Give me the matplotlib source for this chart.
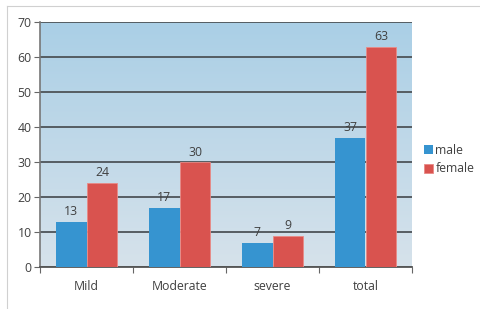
import numpy as np
import matplotlib.pyplot as plt
from matplotlib.lines import Line2D
from matplotlib.colors import LinearSegmentedColormap

categories = ["Mild", "Moderate", "severe", "total"]
male = [13, 17, 7, 37]
female = [24, 30, 9, 63]
series_names = ["male", "female"]
yticks = [0, 10, 20, 30, 40, 50, 60, 70]

plt.rcParams['font.family'] = ['Open Sans', 'DejaVu Sans']
text_color = "#404040"
blue = "#3694d0"
red = "#d9534f"
fs = 8.8

fig = plt.figure(figsize=(4.81, 3.09), dpi=100)
ax = fig.add_axes([40 / 481, 1 - 267 / 309, 372 / 481, 245 / 309])

# gradient background of the plot area
grad = np.linspace(0, 1, 256).reshape(-1, 1)
cmap = LinearSegmentedColormap.from_list("bg", ["#aacfe6", "#d6e2eb"])
ax.imshow(grad, aspect="auto", cmap=cmap, extent=[-0.5, 3.5, 0, 70],
          origin="upper", zorder=0)

x = np.arange(len(categories))
w = 0.333
b1 = ax.bar(x - w / 2, male, w, color=blue, label=series_names[0], zorder=3)
b2 = ax.bar(x + w / 2, female, w, color=red, edgecolor="#e98a86", linewidth=0.6,
            label=series_names[1], zorder=3)

for bars, vals in [(b1, male), (b2, female)]:
    for rect, v in zip(bars, vals):
        ax.text(rect.get_x() + rect.get_width() / 2, v + 1.0, str(v),
                ha="center", va="bottom", fontsize=fs, color=text_color, zorder=4)

ax.set_xlim(-0.5, 3.5)
ax.set_ylim(0, 70)
ax.set_yticks(yticks)
ax.yaxis.grid(True, color="#4d5358", linewidth=1.3, zorder=1)
ax.set_axisbelow(True)

# category ticks between groups, labels at centres
ax.set_xticks(np.arange(-0.5, 4, 1))
ax.set_xticklabels([])
ax.set_xticks(x, minor=True)
ax.set_xticklabels(categories, minor=True)
ax.tick_params(axis="x", which="major", length=4, direction="out", color="#666666")
ax.tick_params(axis="x", which="minor", length=0, pad=9, labelsize=fs, labelcolor=text_color)
ax.tick_params(axis="y", length=4, direction="out", color="#666666", labelsize=fs,
               labelcolor=text_color, pad=2)

for s in ["top", "right"]:
    ax.spines[s].set_visible(False)
ax.spines["left"].set_color("#777777")
ax.spines["bottom"].set_color("#555555")
ax.spines["left"].set_linewidth(1.2)
ax.spines["bottom"].set_linewidth(1.3)

leg = fig.legend(handles=[b1, b2], labels=series_names, loc="upper left",
                 bbox_to_anchor=(419 / 481, 1 - 139 / 309), frameon=False,
                 fontsize=fs, handlelength=0.75, handleheight=0.75,
                 handletextpad=0.2, labelspacing=0.45, borderaxespad=0)
for t in leg.get_texts():
    t.set_color(text_color)

# light frame around chart
fig.add_artist(Line2D([7 / 481, 1], [1 - 6 / 309, 1 - 6 / 309], color="#d0d0d0", lw=0.8))
fig.add_artist(Line2D([7 / 481, 7 / 481], [0, 1 - 6 / 309], color="#d0d0d0", lw=0.8))

fig.savefig("out.png", dpi=100)
